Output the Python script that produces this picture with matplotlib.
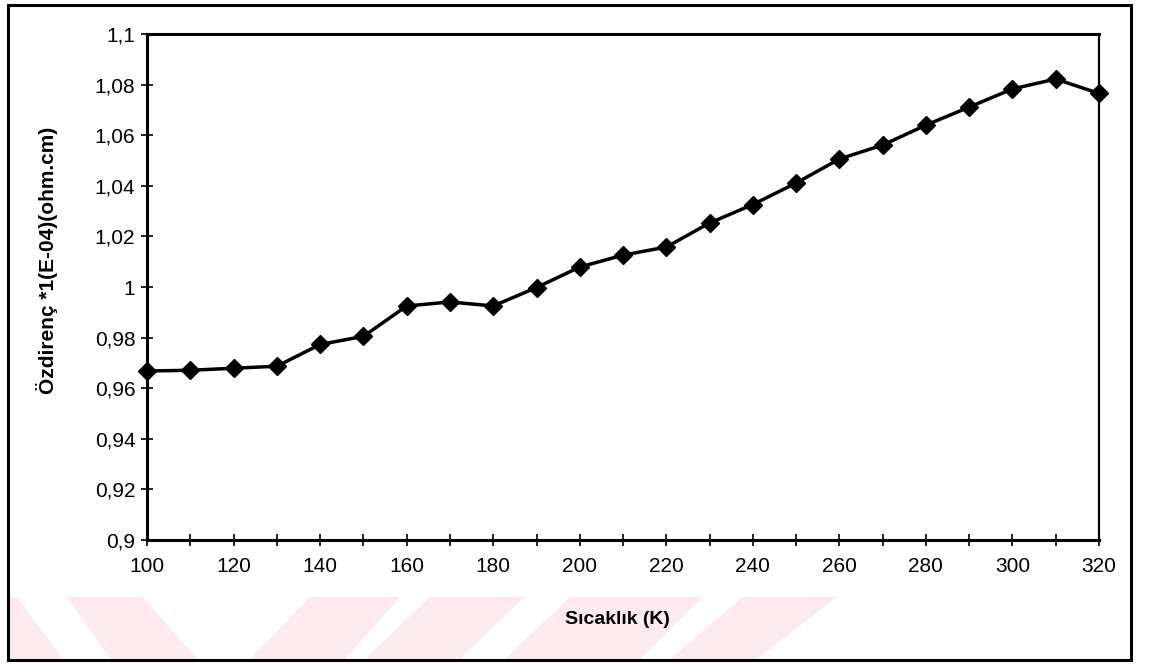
import numpy as np
import matplotlib
matplotlib.use("Agg")
import matplotlib.pyplot as plt
from matplotlib.ticker import FuncFormatter, MultipleLocator
from matplotlib.patches import Rectangle, Polygon

plt.rcParams['font.family'] = ['Liberation Sans', 'DejaVu Sans']

# sicaklik (K) ve ozdirenc degerleri
temperature = [100, 110, 120, 130, 140, 150, 160, 170, 180, 190, 200, 210,
               220, 230, 240, 250, 260, 270, 280, 290, 300, 310, 320]
resistivity = [0.9668, 0.9671, 0.9679, 0.9687, 0.9773, 0.9805, 0.9925, 0.9941,
               0.9925, 0.9998, 1.0079, 1.0126, 1.0158, 1.0253, 1.0326, 1.0411,
               1.0506, 1.0561, 1.0640, 1.0711, 1.0783, 1.0822, 1.0765]

x_label = "Sıcaklık (K)"
y_label = "Özdirenç *1(E-04)(ohm.cm)"

fig = plt.figure(figsize=(11.49, 6.64), dpi=100)
W, H = 1149.0, 664.0

# faint pink watermark stripes at the bottom (pixel outlines: top-left, top-right, bottom-right, bottom-left)
band_top, band_bot = 597, 659
stripes = [(8, 17, 63, 8), (67, 143, 197, 110), (310, 400, 345, 250), (430, 525, 460, 365),
           (570, 703, 640, 505), (743, 837, 757, 670)]
for tl, tr, br, bl in stripes:
    pts = [[tl, band_top], [tr, band_top], [br, band_bot], [bl, band_bot]]
    fig.patches.append(Polygon([[p[0] / W, 1 - p[1] / H] for p in pts], closed=True,
                               transform=fig.transFigure, facecolor='#fdeaee', edgecolor='none', zorder=-1))

# outer border
fig.patches.append(Rectangle((0.007, 0.006), 0.977, 0.986, transform=fig.transFigure,
                             fill=False, edgecolor='black', linewidth=2.2, zorder=1))

ax = fig.add_axes([0.128, 0.1867, 0.8285, 0.7621])
ax.set_zorder(2)
ax.set_facecolor('white')
ax.plot(temperature, resistivity, color='black', linewidth=2.5, marker='D',
        markersize=9, markerfacecolor='black', markeredgecolor='black', clip_on=False, zorder=3)

ax.set_xlim(100, 320)
ax.set_ylim(0.9, 1.1)
ax.xaxis.set_major_locator(MultipleLocator(20))
ax.xaxis.set_minor_locator(MultipleLocator(10))
ax.yaxis.set_major_locator(MultipleLocator(0.02))

fmt = FuncFormatter(lambda v, p: ('%g' % round(v, 4)).replace('.', ','))
ax.yaxis.set_major_formatter(fmt)

ax.tick_params(axis='both', which='both', direction='inout', length=9, width=1.2,
               labelsize=15, colors='black')
ax.tick_params(axis='x', pad=8)
ax.tick_params(axis='y', pad=4)

for side in ['left', 'bottom', 'top']:
    ax.spines[side].set_linewidth(2.2)
ax.spines['right'].set_linewidth(1.6)

ax.set_xlabel(x_label, fontsize=14, fontweight='bold')
ax.set_ylabel(y_label, fontsize=15, fontweight='bold')
ax.xaxis.set_label_coords(0.494, -0.14)
ax.yaxis.set_label_coords(-0.094, 0.553)

fig.savefig("out.png", dpi=100)
